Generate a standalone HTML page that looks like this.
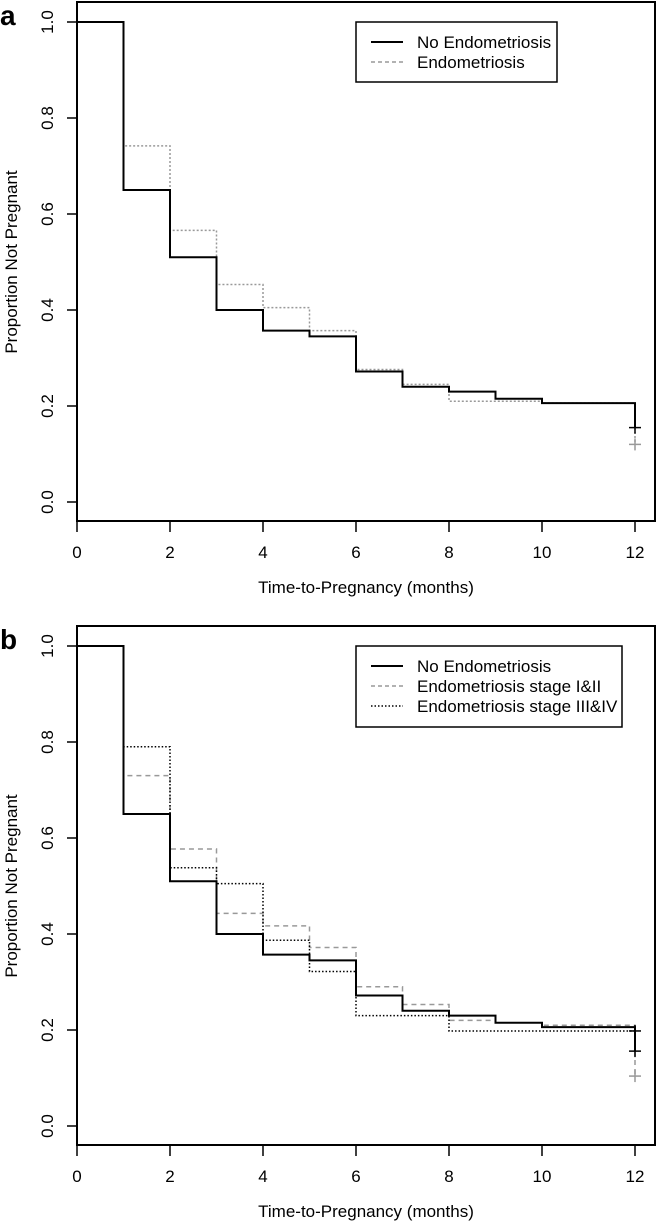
<!DOCTYPE html>
<html><head><meta charset="utf-8"><style>
html,body{margin:0;padding:0;background:#fff;}
svg{display:block;font-family:"Liberation Sans",Arial,sans-serif;}
</style></head><body>
<svg id="chart" width="660" height="1228" viewBox="0 0 660 1228" xmlns="http://www.w3.org/2000/svg"></svg>
<script>
const months = [0,1,2,3,4,5,6,7,8,9,10,11,12];
const yTicks = [0,0.2,0.4,0.6,0.8,1.0];
const yTickLabels = ["0.0","0.2","0.4","0.6","0.8","1.0"];
const xTicks = [0,2,4,6,8,10,12];
const xTickLabels = ["0","2","4","6","8","10","12"];
// survival values at start of each month interval (index = month)
const noEndo = [1.0,0.65,0.51,0.40,0.357,0.345,0.272,0.24,0.23,0.215,0.206,0.206,0.155];
const endoA = [1.0,0.742,0.566,0.453,0.405,0.357,0.276,0.245,0.21,0.21,0.206,0.206,0.12];
const stage12 = [1.0,0.73,0.577,0.443,0.417,0.372,0.29,0.253,0.22,0.215,0.21,0.21,0.105];
const stage34 = [1.0,0.79,0.538,0.505,0.387,0.322,0.23,0.23,0.198,0.198,0.198,0.198,0.156];
const censorA = [{v:0.155,c:"#000"},{v:0.12,c:"#999"}];
const censorB = [{v:0.198,c:"#000"},{v:0.156,c:"#000"},{v:0.104,c:"#999"}];

const NS="http://www.w3.org/2000/svg";
const svg=document.getElementById('chart');
function mk(tag,attrs,parent){const e=document.createElementNS(NS,tag);for(const k in attrs)e.setAttribute(k,attrs[k]);(parent||svg).appendChild(e);return e;}

function panel(off, letter, series, censors, legendItems, legBox){
  const g=mk('g',{});
  
  
  const X=t=>77+t*46.5;
  const Y=v=>off+502-v*480;
  const frame=mk('rect',{x:77,y:off+2,width:578,height:519,fill:'none',stroke:'#000','stroke-width':2},g);
  
  
  const pl=mk('text',{x:0,y:off+25,'font-size':28,'font-weight':'bold'},g);
  pl.textContent=letter;
  
  
  yTicks.forEach((v,i)=>{
    mk('line',{x1:67,x2:77,y1:Y(v),y2:Y(v),stroke:'#000','stroke-width':1.5},g);
    const t=mk('text',{x:0,y:0,'font-size':17,'text-anchor':'middle',transform:`translate(53,${Y(v)}) rotate(-90)`},g);
    t.textContent=yTickLabels[i];
    
    
  });
  xTicks.forEach((m,i)=>{
    mk('line',{x1:X(m),x2:X(m),y1:off+521,y2:off+532,stroke:'#000','stroke-width':1.5},g);
    const t=mk('text',{x:X(m),y:off+558,'font-size':17,'text-anchor':'middle'},g);
    t.textContent=xTickLabels[i];
    
    
  });
  const yt=mk('text',{x:0,y:0,'font-size':17,'text-anchor':'middle',transform:`translate(17,${off+262}) rotate(-90)`},g);
  yt.textContent='Proportion Not Pregnant';
  
  
  const xt=mk('text',{x:366,y:off+593,'font-size':17,'text-anchor':'middle'},g);
  xt.textContent='Time-to-Pregnancy (months)';
  
  
  series.forEach(s=>{
    let d=`M${X(0)},${Y(s.vals[0])}`;
    for(let i=1;i<months.length;i++){d+=` H${X(months[i])} V${Y(s.vals[i])}`;}
    const p=mk('path',{d:d,fill:'none',stroke:s.color,'stroke-width':s.w,'stroke-dasharray':s.dash},g);
    
    
  });
  censors.forEach(c=>{
    const x=X(12),y=Y(c.v);
    const cg=mk('g',{stroke:c.c,'stroke-width':1.5},g);
    
    
    mk('line',{x1:x-6,x2:x+6,y1:y,y2:y},cg);
    mk('line',{x1:x,x2:x,y1:y-6,y2:y+6},cg);
  });
  const lg=mk('g',{},g);
  
  
  mk('rect',{x:356,y:off+legBox.y,width:legBox.w,height:legBox.h,fill:'#fff',stroke:'#000','stroke-width':1.5},lg);
  legendItems.forEach((it,i)=>{
    const cy=off+legBox.y+20+i*20;
    mk('line',{x1:371,x2:403,y1:cy,y2:cy,stroke:it.color,'stroke-width':it.w,'stroke-dasharray':it.dash},lg);
    const t=mk('text',{x:417,y:cy+6,'font-size':17},lg);
    t.textContent=it.label;
    
    
  });
}

panel(0,'a',[
  {name:'line-endometriosis',vals:endoA,color:'#999',w:1.5,dash:'2,2'},
  {name:'line-no-endometriosis',vals:noEndo,color:'#000',w:2,dash:'none'}
],censorA,[
  {label:'No Endometriosis',color:'#000',w:2,dash:'none'},
  {label:'Endometriosis',color:'#999',w:1.5,dash:'4,3'}
],{y:22,w:201,h:60});

panel(624,'b',[
  {name:'line-stage-1-2',vals:stage12,color:'#999',w:1.5,dash:'5,4'},
  {name:'line-stage-3-4',vals:stage34,color:'#000',w:1.5,dash:'1.5,2'},
  {name:'line-no-endometriosis',vals:noEndo,color:'#000',w:2,dash:'none'}
],censorB,[
  {label:'No Endometriosis',color:'#000',w:2,dash:'none'},
  {label:'Endometriosis stage I&II',color:'#999',w:1.5,dash:'4,3'},
  {label:'Endometriosis stage III&IV',color:'#000',w:1.5,dash:'1.5,2'}
],{y:22,w:266,h:81});
</script>
</body></html>
